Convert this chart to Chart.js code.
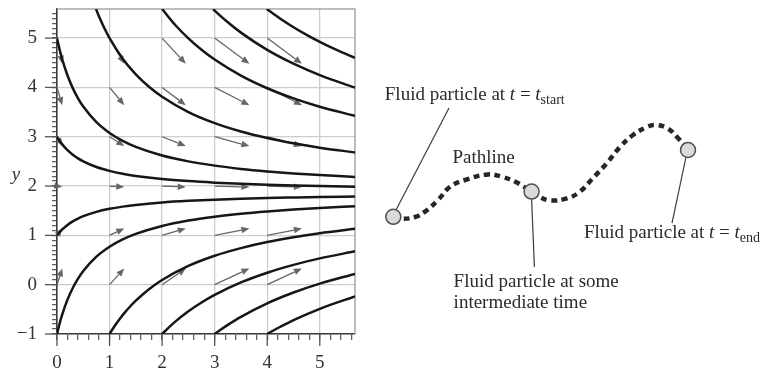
<!DOCTYPE html>
<html><head><meta charset="utf-8">
<script src="https://cdn.jsdelivr.net/npm/chart.js@4"></script>
<style>
html,body{margin:0;padding:0;background:#fff;}
#wrap{position:relative;width:768px;height:372px;overflow:hidden;background:#fff;}
#c1{position:absolute;left:0;top:0;}
#c2{position:absolute;left:368px;top:0;}
</style></head><body>
<div id="wrap">
<canvas id="c1" width="368" height="372"></canvas>
<canvas id="c2" width="400" height="372"></canvas>
</div>
<script>
// ---------- LEFT PANEL DATA ----------
const xTickLabels = [0, 1, 2, 3, 4, 5];
const yTickLabels = [-1, 0, 1, 2, 3, 4, 5];

// streamlines starting on the left axis (x = 0)
const leftStartX = [0, 0.02, 0.05, 0.1, 0.2, 0.3, 0.4, 0.5, 0.75, 1, 1.25, 1.5, 2, 2.5, 3, 3.5, 4, 4.5, 5, 5.67];
const streamFromY5 = [5.0, 4.903, 4.769, 4.569, 4.242, 3.986, 3.780, 3.611, 3.295, 3.077, 2.917, 2.794, 2.619, 2.500, 2.414, 2.348, 2.297, 2.256, 2.222, 2.185];
const streamFromY3 = [3.0, 2.965, 2.917, 2.845, 2.727, 2.635, 2.561, 2.500, 2.386, 2.308, 2.250, 2.206, 2.143, 2.100, 2.069, 2.045, 2.027, 2.012, 2.000, 1.987];
const streamFromY1 = [1.0, 1.027, 1.065, 1.121, 1.212, 1.284, 1.341, 1.389, 1.477, 1.538, 1.583, 1.618, 1.667, 1.700, 1.724, 1.742, 1.757, 1.768, 1.778, 1.788];
const streamFromYm1 = [-1.0, -0.911, -0.787, -0.603, -0.303, -0.068, 0.122, 0.278, 0.568, 0.769, 0.917, 1.029, 1.190, 1.300, 1.379, 1.439, 1.486, 1.524, 1.556, 1.590];

// streamlines starting on the bottom axis (y = -1)
const streamB1X = [1, 1.02, 1.05, 1.1, 1.2, 1.3, 1.4, 1.5, 1.75, 2, 2.5, 3, 3.5, 4, 4.5, 5, 5.67];
const streamB1Y = [-1, -0.965, -0.914, -0.833, -0.685, -0.552, -0.432, -0.324, -0.092, 0.095, 0.380, 0.586, 0.742, 0.865, 0.963, 1.044, 1.133];
const streamB2X = [2, 2.03, 2.1, 2.25, 2.5, 2.75, 3, 3.5, 4, 4.5, 5, 5.67];
const streamB2Y = [-1, -0.968, -0.895, -0.750, -0.540, -0.361, -0.207, 0.045, 0.243, 0.402, 0.533, 0.676];
const streamB3X = [3, 3.1, 3.25, 3.5, 4, 4.5, 5, 5.67];
const streamB3Y = [-1, -0.923, -0.815, -0.652, -0.378, -0.159, 0.022, 0.219];
const streamB4X = [4, 4.1, 4.25, 4.5, 5, 5.67];
const streamB4Y = [-1, -0.939, -0.853, -0.719, -0.489, -0.237];

// streamlines entering from the top edge
const streamT1X = [0.742, 0.8, 0.9, 1, 1.25, 1.5, 1.75, 2, 2.5, 3, 3.5, 4, 4.5, 5, 5.67];
const streamT1Y = [5.59, 5.439, 5.205, 5.000, 4.583, 4.265, 4.013, 3.810, 3.500, 3.276, 3.106, 2.973, 2.866, 2.778, 2.682];
const streamT2X = [2, 2.25, 2.5, 2.75, 3, 3.5, 4, 4.5, 5, 5.67];
const streamT2Y = [5.59, 5.266, 4.995, 4.764, 4.565, 4.239, 3.983, 3.777, 3.608, 3.424];
const streamT3X = [2.97, 3, 3.25, 3.5, 4, 4.5, 5, 5.67];
const streamT3Y = [5.59, 5.558, 5.320, 5.111, 4.761, 4.480, 4.248, 3.996];
const streamT4X = [3.99, 4.25, 4.5, 4.75, 5, 5.33, 5.67];
const streamT4Y = [5.59, 5.393, 5.221, 5.066, 4.924, 4.755, 4.599];

// velocity vectors at grid points
const arrowColsX = [0, 1, 2, 3, 4];
const arrowRowsY = [0, 1, 2, 3, 4, 5];
const arrowDxByCol = [0.1, 0.28, 0.45, 0.66, 0.66];
const arrowDyByRow = [0.33, 0.14, -0.02, -0.19, -0.36, -0.52];

// ---------- RIGHT PANEL DATA ----------
const pathX = [0.633, 0.85, 1.175, 1.425, 1.75, 2.05, 2.425, 3.0, 3.35, 3.675, 4.09, 4.25, 4.55, 4.975, 5.3, 5.625, 5.975, 6.3, 6.625, 6.975, 7.175, 7.475, 7.725, 8.0];
const pathY = [3.88, 3.83, 3.875, 4.01, 4.3, 4.63, 4.8, 4.94, 4.88, 4.76, 4.51, 4.4, 4.29, 4.34, 4.51, 4.85, 5.225, 5.625, 5.925, 6.125, 6.175, 6.1, 5.875, 5.55];
const particleX = [0.633, 4.09, 8.0];
const particleY = [3.88, 4.51, 5.55];

// ---------- helpers ----------
const SERIF = '"Liberation Serif", "Times New Roman", serif';
const isInt = v => Math.abs(v - Math.round(v)) < 1e-6;
const zip = (xs, ys) => xs.map((x, i) => ({x: x, y: ys[i]}));
const minus = v => (v < 0 ? '\u2212' + Math.abs(v) : String(v));

function streamDS(xs, ys) {
  return {
    data: zip(xs, ys), showLine: true, borderColor: '#161616', borderWidth: 2.5,
    pointRadius: 0, cubicInterpolationMode: 'monotone', fill: false
  };
}

const leftPlugin = {
  id: 'leftDecor',
  beforeDatasetsDraw(chart) {
    const {ctx, chartArea: a, scales: {x, y}} = chart;
    ctx.save();
    // frame (top & right)
    ctx.strokeStyle = '#a8a8a8';
    ctx.lineWidth = 1.5;
    ctx.beginPath();
    ctx.moveTo(a.left, a.top); ctx.lineTo(a.right, a.top); ctx.lineTo(a.right, a.bottom);
    ctx.stroke();
    // velocity arrows
    ctx.strokeStyle = '#666';
    ctx.fillStyle = '#666';
    ctx.lineWidth = 1.3;
    arrowRowsY.forEach((gy, r) => {
      arrowColsX.forEach((gx, c) => {
        const x0 = x.getPixelForValue(gx), y0 = y.getPixelForValue(gy);
        const x1 = x.getPixelForValue(gx + arrowDxByCol[c]), y1 = y.getPixelForValue(gy + arrowDyByRow[r]);
        const ang = Math.atan2(y1 - y0, x1 - x0);
        const hl = 8, hw = 3.3;
        const bx = x1 - hl * Math.cos(ang), by = y1 - hl * Math.sin(ang);
        ctx.beginPath(); ctx.moveTo(x0, y0); ctx.lineTo(bx, by); ctx.stroke();
        ctx.beginPath();
        ctx.moveTo(x1, y1);
        ctx.lineTo(bx + hw * Math.sin(ang), by - hw * Math.cos(ang));
        ctx.lineTo(bx - hw * Math.sin(ang), by + hw * Math.cos(ang));
        ctx.closePath(); ctx.fill();
      });
    });
    ctx.restore();
  },
  afterDraw(chart) {
    const {ctx, chartArea: a, scales: {x, y}} = chart;
    ctx.save();
    ctx.strokeStyle = '#555';
    ctx.lineWidth = 1.3;
    yTickLabels.forEach(v => {
      const py = y.getPixelForValue(v);
      ctx.beginPath(); ctx.moveTo(a.left - 12, py); ctx.lineTo(a.left, py); ctx.stroke();
    });
    xTickLabels.forEach(v => {
      const px = x.getPixelForValue(v);
      ctx.beginPath(); ctx.moveTo(px, a.bottom); ctx.lineTo(px, a.bottom + 12); ctx.stroke();
    });
    // axis title "y"
    ctx.fillStyle = '#333';
    ctx.font = 'italic 19px ' + SERIF;
    ctx.textAlign = 'center';
    ctx.textBaseline = 'middle';
    ctx.fillText('y', 16, y.getPixelForValue(2.22));
    ctx.restore();
  }
};

new Chart(document.getElementById('c1'), {
  type: 'scatter',
  data: {
    datasets: [
      streamDS(leftStartX, streamFromY5),
      streamDS(leftStartX, streamFromY3),
      streamDS(leftStartX, streamFromY1),
      streamDS(leftStartX, streamFromYm1),
      streamDS(streamB1X, streamB1Y),
      streamDS(streamB2X, streamB2Y),
      streamDS(streamB3X, streamB3Y),
      streamDS(streamB4X, streamB4Y),
      streamDS(streamT1X, streamT1Y),
      streamDS(streamT2X, streamT2Y),
      streamDS(streamT3X, streamT3Y),
      streamDS(streamT4X, streamT4Y)
    ]
  },
  options: {
    responsive: false, animation: false, events: [],
    layout: {padding: {top: 9, right: 13, left: 0, bottom: 0}, autoPadding: false},
    plugins: {legend: {display: false}, tooltip: {enabled: false}},
    scales: {
      x: {
        type: 'linear', min: 0, max: 5.67,
        afterBuildTicks: s => { const t = []; for (let k = 0; k <= 28; k++) t.push({value: Math.round(k * 2) / 10}); s.ticks = t; },
        afterFit: s => { s.height = 38; s.paddingLeft = 0; s.paddingRight = 0; },
        grid: {
          color: c => (c.tick && isInt(c.tick.value) ? '#cdcdcd' : 'rgba(0,0,0,0)'),
          lineWidth: 1.3, tickLength: 6, tickColor: '#555', tickWidth: 1.2, drawTicks: true
        },
        border: {display: true, color: '#3a3a3a', width: 1.6},
        ticks: {
          autoSkip: false, maxRotation: 0, padding: 12, color: '#333',
          font: {family: SERIF, size: 19},
          callback: v => (isInt(v) && xTickLabels.includes(Math.round(v)) ? minus(Math.round(v)) : '')
        }
      },
      y: {
        type: 'linear', min: -1, max: 5.59,
        afterBuildTicks: s => { const t = []; for (let k = -10; k <= 55; k++) t.push({value: k / 10}); s.ticks = t; },
        afterFit: s => { s.width = 57; s.paddingTop = 0; s.paddingBottom = 0; },
        grid: {
          color: c => (c.tick && isInt(c.tick.value) ? '#cdcdcd' : 'rgba(0,0,0,0)'),
          lineWidth: 1.3, tickLength: 5, tickColor: '#555', tickWidth: 1.2, drawTicks: true
        },
        border: {display: true, color: '#3a3a3a', width: 1.6},
        ticks: {
          autoSkip: false, padding: 15, color: '#333',
          font: {family: SERIF, size: 19},
          callback: v => (isInt(v) && yTickLabels.includes(Math.round(v)) ? minus(Math.round(v)) : '')
        }
      }
    }
  },
  plugins: [leftPlugin]
});

// ---------- RIGHT PANEL ----------
function drawRich(ctx, x, y, parts) {
  let cx = x;
  parts.forEach(p => {
    ctx.font = p.font;
    ctx.fillText(p.text, cx, y + (p.dy || 0));
    cx += ctx.measureText(p.text).width;
  });
}
const NORM = '19px ' + SERIF, ITAL = 'italic 19px ' + SERIF, SUB = '14px ' + SERIF;

const rightPlugin = {
  id: 'rightText',
  afterDraw(chart) {
    const {ctx, scales: {x, y}} = chart;
    const P = (ux, uy) => [x.getPixelForValue(ux), y.getPixelForValue(uy)];
    ctx.save();
    ctx.fillStyle = '#2a2a2a';
    ctx.textAlign = 'left';
    ctx.textBaseline = 'alphabetic';
    let p = P(0.42, 6.8);
    drawRich(ctx, p[0], p[1], [
      {text: 'Fluid particle at ', font: NORM}, {text: 't', font: ITAL}, {text: ' = ', font: NORM},
      {text: 't', font: ITAL}, {text: 'start', font: SUB, dy: 4}
    ]);
    p = P(2.11, 5.22);
    drawRich(ctx, p[0], p[1], [{text: 'Pathline', font: NORM}]);
    p = P(5.4, 3.34);
    drawRich(ctx, p[0], p[1], [
      {text: 'Fluid particle at ', font: NORM}, {text: 't', font: ITAL}, {text: ' = ', font: NORM},
      {text: 't', font: ITAL}, {text: 'end', font: SUB, dy: 4}
    ]);
    p = P(2.14, 2.13);
    drawRich(ctx, p[0], p[1], [{text: 'Fluid particle at some', font: NORM}]);
    p = P(2.14, 1.61);
    drawRich(ctx, p[0], p[1], [{text: 'intermediate time', font: NORM}]);
    ctx.restore();
  }
};

function leader(x0, y0, x1, y1) {
  return {type: 'line', data: [{x: x0, y: y0}, {x: x1, y: y1}], borderColor: '#3c3c3c', borderWidth: 1.2, pointRadius: 0};
}

new Chart(document.getElementById('c2'), {
  type: 'scatter',
  data: {
    datasets: [
      {data: zip(particleX, particleY), pointRadius: 7.5, backgroundColor: '#dadada', borderColor: '#505050', borderWidth: 1.5, showLine: false},
      {type: 'line', data: zip(pathX, pathY), borderColor: '#262626', borderWidth: 4.5, borderDash: [6, 4.5], tension: 0.4, pointRadius: 0, fill: false},
      leader(0.70, 4.05, 2.025, 6.6),
      leader(4.09, 4.33, 4.16, 2.625),
      leader(7.95, 5.375, 7.6, 3.72)
    ]
  },
  options: {
    responsive: false, animation: false, events: [],
    layout: {padding: 0, autoPadding: false},
    plugins: {legend: {display: false}, tooltip: {enabled: false}},
    scales: {
      x: {type: 'linear', min: 0, max: 10, display: false},
      y: {type: 'linear', min: 0, max: 9.3, display: false}
    }
  },
  plugins: [rightPlugin]
});
</script>
</body></html>
